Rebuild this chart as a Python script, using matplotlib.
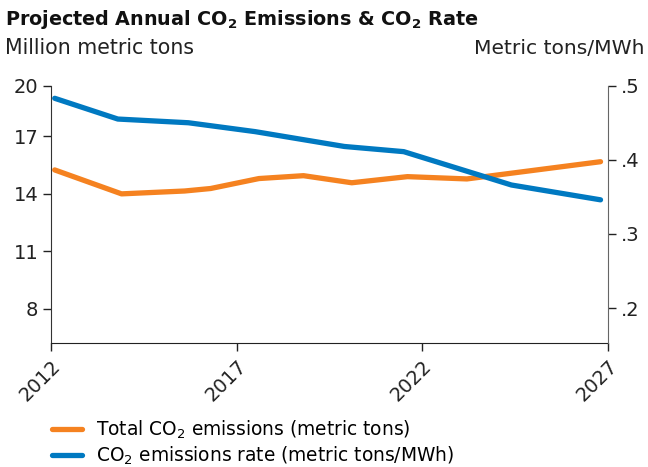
import matplotlib
matplotlib.use("Agg")
import matplotlib.pyplot as plt

plt.rcParams['font.family'] = ['DejaVu Sans']
plt.rcParams['mathtext.fontset'] = 'dejavusans'

# values (x in decimal years)
total_years = [2012.1, 2013.9, 2015.6, 2016.3, 2017.6, 2018.8, 2020.1, 2021.6, 2023.2, 2026.8]
total_emissions = [15.25, 14.0, 14.15, 14.28, 14.8, 14.95, 14.58, 14.9, 14.78, 15.68]

rate_years = [2012.1, 2013.8, 2015.7, 2017.5, 2019.9, 2021.5, 2024.4, 2026.8]
rate_values = [0.483, 0.455, 0.450, 0.438, 0.418, 0.411, 0.366, 0.346]

year_ticks = [2012, 2017, 2022, 2027]
left_ticks = [8, 11, 14, 17]
right_ticks = [0.2, 0.3, 0.4, 0.5]
right_labels = ['.2', '.3', '.4', '.5']

orange = '#F58220'
blue = '#0079C1'

fig = plt.figure(figsize=(6.48, 4.67), dpi=100)
ax = fig.add_axes([0.0787, 0.2655, 0.8595, 0.551])
ax2 = ax.twinx()

l1, = ax.plot(total_years, total_emissions, color=orange, lw=3.8, solid_capstyle='round',
              solid_joinstyle='round', label=r'Total CO$_2$ emissions (metric tons)')
l2, = ax2.plot(rate_years, rate_values, color=blue, lw=3.8, solid_capstyle='round',
               solid_joinstyle='round', label=r'CO$_2$ emissions rate (metric tons/MWh)')

ax.set_xlim(2012, 2027)
ax.set_ylim(6.21, 19.65)
ax2.set_ylim(0.1528, 0.5)

# top tick of the left axis sits at the axis top and reads "20"
ax.set_yticks(left_ticks + [19.65])
ax.set_yticklabels([str(v) for v in left_ticks] + ['20'])
ax2.set_yticks(right_ticks)
ax2.set_yticklabels(right_labels)
ax.set_xticks(year_ticks)
ax.set_xticklabels([str(y) for y in year_ticks], rotation=45, ha='right',
                   rotation_mode='anchor')

for a in (ax, ax2):
    a.spines['top'].set_visible(False)
    a.tick_params(labelsize=14, length=6, width=1, colors='#222222', pad=3)
ax.spines['right'].set_visible(False)
ax.spines['left'].set_color('#333333')
ax.spines['bottom'].set_color('#222222')
ax2.spines['left'].set_visible(False)
ax2.spines['bottom'].set_visible(False)
ax2.spines['right'].set_color('#666666')
ax.tick_params(axis='x', pad=4)

fig.text(0.008, 0.958, r'Projected Annual CO$_\mathbf{2}$ Emissions & CO$_\mathbf{2}$ Rate',
         fontsize=13.8, fontweight='bold', va='center', ha='left', color='#111111')
fig.text(0.008, 0.897, 'Million metric tons', fontsize=14.8, va='center', ha='left', color='#222222')
fig.text(0.995, 0.897, 'Metric tons/MWh', fontsize=14.6, va='center', ha='right', color='#222222')

fig.legend(handles=[l1, l2], loc='upper left', bbox_to_anchor=(0.068, 0.12),
           frameon=False, fontsize=13.4, handlelength=1.65, handletextpad=0.75,
           labelspacing=0.2, borderaxespad=0)

fig.savefig('out.png', dpi=100)
